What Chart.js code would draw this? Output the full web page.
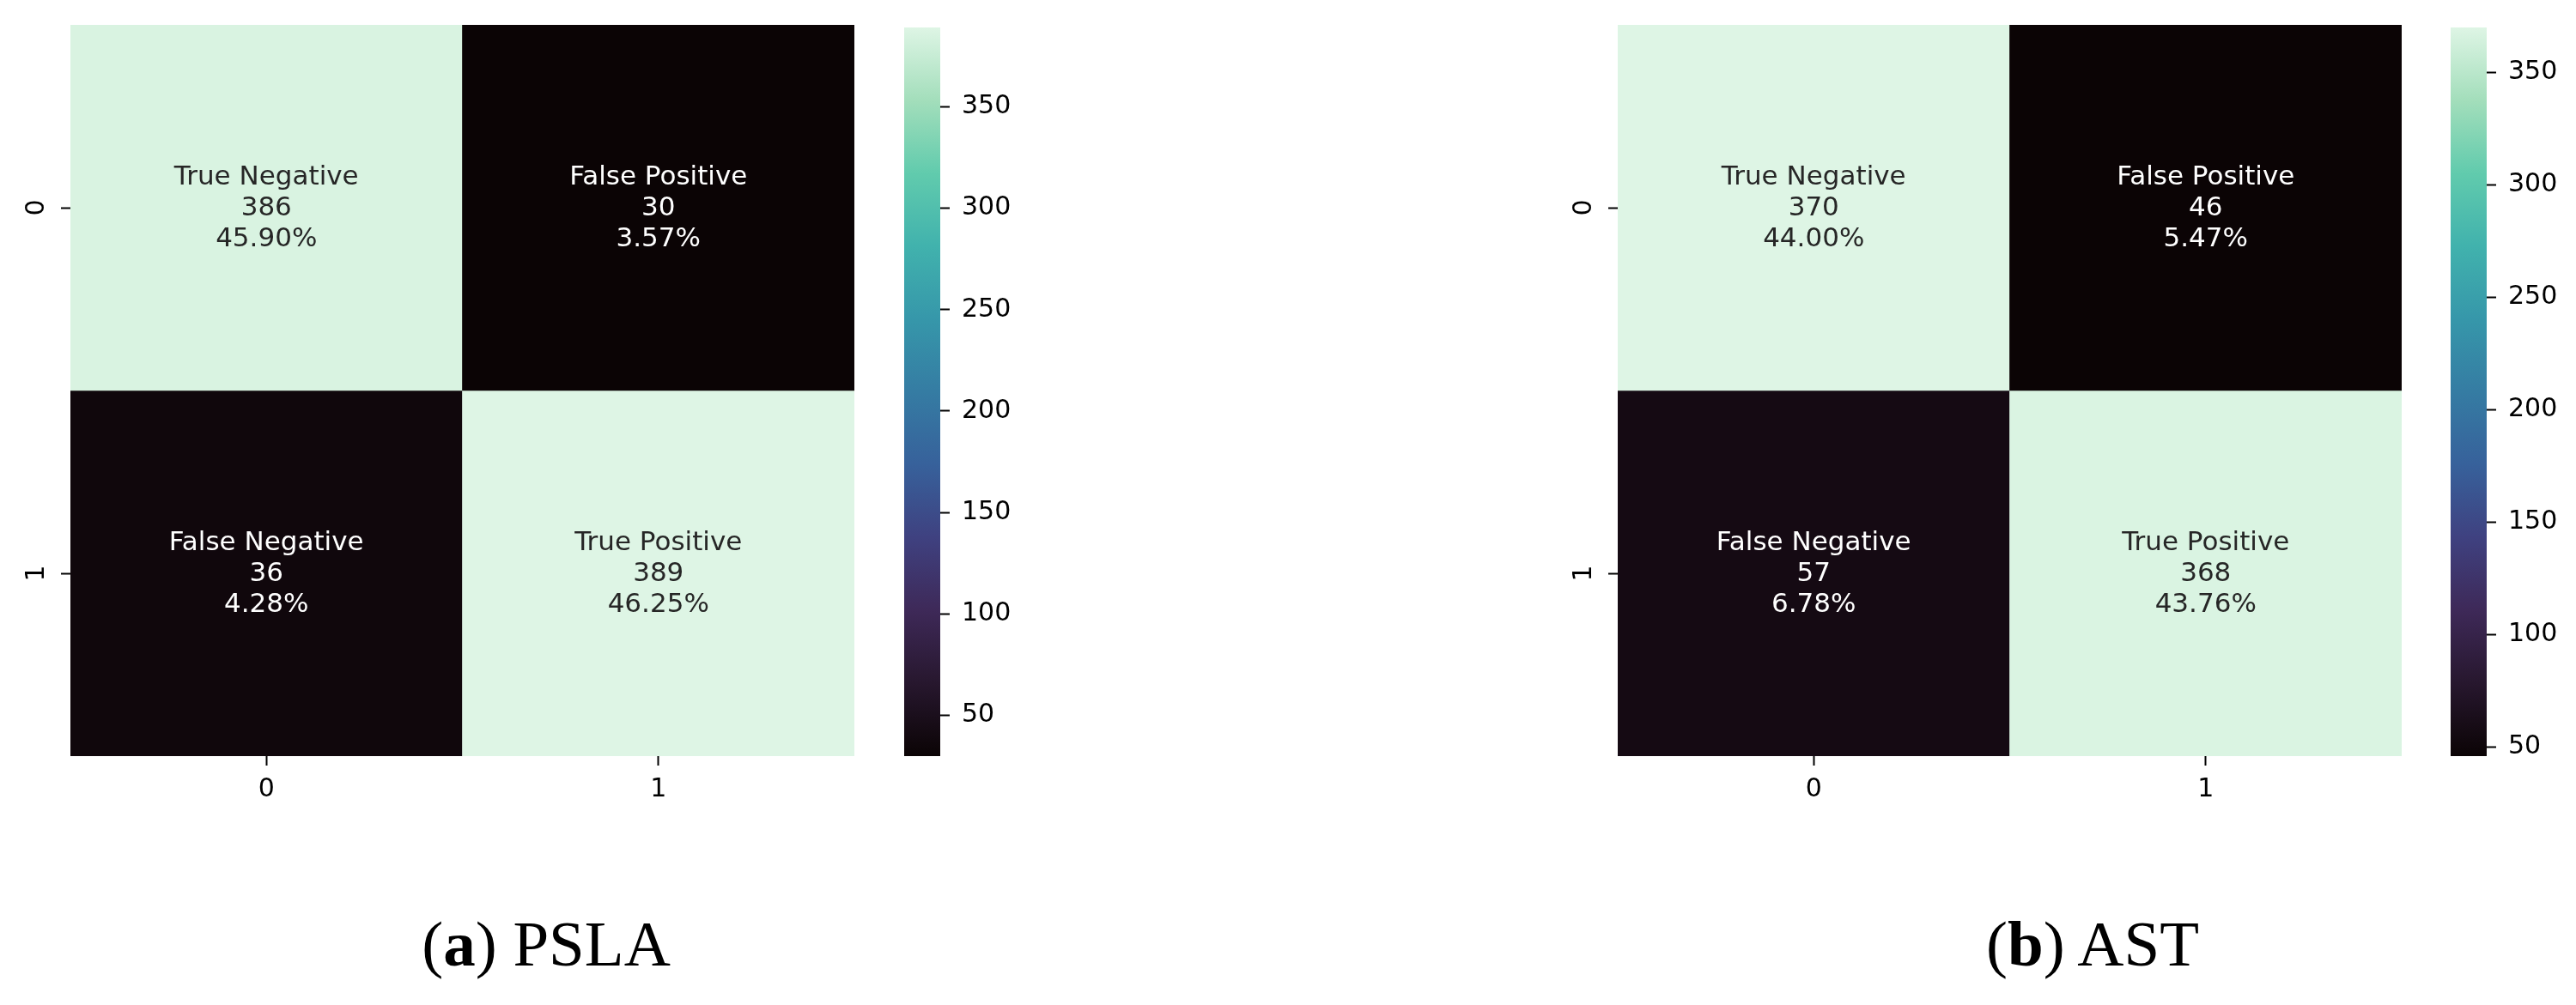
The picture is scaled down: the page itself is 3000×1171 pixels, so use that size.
<!DOCTYPE html>
<html>
<head>
<meta charset="utf-8">
<script src="https://cdn.jsdelivr.net/npm/chart.js@4.4.1/dist/chart.umd.min.js"></script>
<style>
  body { margin: 0; background: #fff; width: 3000px; height: 1171px; position: relative; overflow: hidden; }
  canvas { position: absolute; top: 0; }
  .caption { position: absolute; top: 1062px; width: 700px; text-align: center; font-family: 'Liberation Serif', 'Times New Roman', serif; font-size: 75px; line-height: 75px; color: #000; }
</style>
</head>
<body>
<canvas id="cmA" width="1005" height="960" style="left:0px"></canvas>
<canvas id="cbA" width="145" height="960" style="left:1053px"></canvas>
<canvas id="cmB" width="1005" height="960" style="left:1802px"></canvas>
<canvas id="cbB" width="145" height="960" style="left:2854px"></canvas>
<div class="caption" style="left:286px">(<b>a</b>) PSLA</div>
<div class="caption" style="left:2087px">(<b>b</b>) AST</div>
<script>
const classLabels = ['0', '1'];
const cellNames = [['True Negative', 'False Positive'], ['False Negative', 'True Positive']];
const pslaCounts = [[386, 30], [36, 389]];
const astCounts = [[370, 46], [57, 368]];
const colorbarTicks = [50, 100, 150, 200, 250, 300, 350];

// seaborn "mako" colormap, sampled every 0.1
const mako = ['#0B0405', '#27172E', '#3E2958', '#3F4180', '#37619B', '#357CA3',
              '#3697AA', '#41B2AD', '#61CBAD', '#A3DEBB', '#DEF5E5'];

const FONT = "'DejaVu Sans', sans-serif";

function hexToRgb(h) {
  return [parseInt(h.slice(1, 3), 16), parseInt(h.slice(3, 5), 16), parseInt(h.slice(5, 7), 16)];
}

function makoColor(t) {
  t = Math.max(0, Math.min(1, t));
  const pos = t * (mako.length - 1);
  const i = Math.min(Math.floor(pos), mako.length - 2);
  const f = pos - i;
  const a = hexToRgb(mako[i]), b = hexToRgb(mako[i + 1]);
  const c = a.map((v, k) => Math.round(v + (b[k] - v) * f));
  return 'rgb(' + c.join(',') + ')';
}

function drawHeatmap(id, counts) {
  const flat = counts.flat();
  const vmin = Math.min(...flat), vmax = Math.max(...flat);
  const total = flat.reduce((s, v) => s + v, 0);

  // three-line annotation in each cell: name, count, share of total
  const cellText = {
    id: 'cellText',
    afterDatasetsDraw(chart) {
      const ctx = chart.ctx;
      ctx.save();
      ctx.font = '31px ' + FONT;
      ctx.textAlign = 'center';
      ctx.textBaseline = 'middle';
      counts.forEach((row, r) => {
        chart.getDatasetMeta(r).data.forEach((bar, c) => {
          const v = row[c];
          const cx = bar.x, cy = (bar.y + bar.base) / 2 + 1;
          const lum = (v - vmin) / (vmax - vmin);
          ctx.fillStyle = lum > 0.5 ? '#262626' : '#ffffff';
          const lines = [cellNames[r][c], String(v), (v / total * 100).toFixed(2) + '%'];
          lines.forEach((s, k) => ctx.fillText(s, cx, cy + (k - 1) * 36));
        });
      });
      ctx.restore();
    }
  };

  // rotated row labels, like matplotlib's vertical yticklabels
  const yLabels = {
    id: 'yLabels',
    afterDraw(chart) {
      const ctx = chart.ctx, ys = chart.scales.y;
      ctx.save();
      ctx.font = '30px ' + FONT;
      ctx.fillStyle = '#000';
      ctx.textAlign = 'center';
      ctx.textBaseline = 'middle';
      classLabels.forEach((lab, i) => {
        ctx.save();
        ctx.translate(43, ys.getPixelForValue(i + 0.5));
        ctx.rotate(-Math.PI / 2);
        ctx.fillText(lab, 0, 0);
        ctx.restore();
      });
      ctx.restore();
    }
  };

  new Chart(document.getElementById(id), {
    type: 'bar',
    data: {
      labels: classLabels,
      datasets: counts.map((row, r) => ({
        data: row.map(() => [r, r + 1]),
        backgroundColor: row.map(v => makoColor((v - vmin) / (vmax - vmin))),
        borderWidth: 0,
        grouped: false,
        barPercentage: 1,
        categoryPercentage: 1
      }))
    },
    options: {
      responsive: false,
      animation: false,
      devicePixelRatio: 1,
      layout: { padding: { top: 29, right: 10, left: 0, bottom: 0 } },
      plugins: { legend: { display: false }, tooltip: { enabled: false } },
      scales: {
        x: {
          grid: { display: true, drawOnChartArea: false, offset: false, tickLength: 11, tickWidth: 2, tickColor: '#000' },
          border: { display: false },
          ticks: { color: '#000', font: { family: FONT, size: 30 }, padding: 10 },
          afterFit(s) { s.height = 79; }
        },
        y: {
          min: 0, max: 2, reverse: true,
          afterBuildTicks(s) { s.ticks = classLabels.map((_, i) => ({ value: i + 0.5 })); },
          grid: { display: true, drawOnChartArea: false, tickLength: 11, tickWidth: 2, tickColor: '#000' },
          border: { display: false },
          ticks: { display: false },
          afterFit(s) { s.width = 82; }
        }
      }
    },
    plugins: [cellText, yLabels]
  });
  return [vmin, vmax];
}

function drawColorbar(id, vmin, vmax) {
  new Chart(document.getElementById(id), {
    type: 'bar',
    data: {
      labels: [''],
      datasets: [{
        data: [[vmin, vmax]],
        backgroundColor(ctx) {
          const a = ctx.chart.chartArea;
          if (!a) return mako[0];
          const g = ctx.chart.ctx.createLinearGradient(0, a.bottom, 0, a.top);
          mako.forEach((c, i) => g.addColorStop(i / (mako.length - 1), c));
          return g;
        },
        borderWidth: 0,
        barPercentage: 1,
        categoryPercentage: 1
      }]
    },
    options: {
      responsive: false,
      animation: false,
      devicePixelRatio: 1,
      layout: { padding: { top: 29, bottom: 79, left: 0, right: 0 } },
      plugins: { legend: { display: false }, tooltip: { enabled: false } },
      scales: {
        x: { display: false },
        y: {
          position: 'right',
          min: vmin, max: vmax,
          afterBuildTicks(s) { s.ticks = colorbarTicks.map(v => ({ value: v })); },
          grid: { display: true, drawOnChartArea: false, tickLength: 11, tickWidth: 2, tickColor: '#000' },
          border: { display: false },
          ticks: { color: '#000', font: { family: FONT, size: 30 }, padding: 14 },
          afterFit(s) { s.width = 103; }
        }
      }
    }
  });
}

const [aMin, aMax] = drawHeatmap('cmA', pslaCounts);
drawColorbar('cbA', aMin, aMax);
const [bMin, bMax] = drawHeatmap('cmB', astCounts);
drawColorbar('cbB', bMin, bMax);
</script>
</body>
</html>
